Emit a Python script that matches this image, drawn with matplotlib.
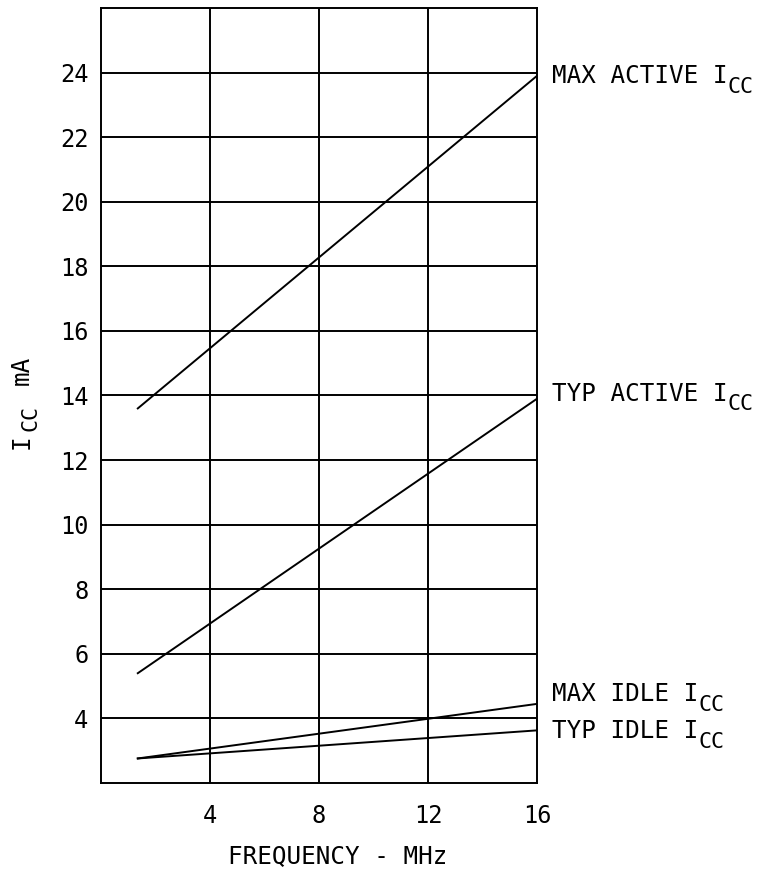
import matplotlib
matplotlib.use("Agg")
import matplotlib.pyplot as plt

plt.rcParams['font.family'] = ['DejaVu Sans Mono']

# data
freq = [1.35, 16]
max_active = [13.6, 23.9]
typ_active = [5.4, 13.9]
max_idle = [2.76, 4.45]
typ_idle = [2.76, 3.63]

curve_names = ['MAX ACTIVE I', 'TYP ACTIVE I', 'MAX IDLE I', 'TYP IDLE I']
label_y = [23.67, 13.84, 4.53, 3.38]

x_ticks = [4, 8, 12, 16]
y_ticks = list(range(4, 26, 2))

fig = plt.figure(figsize=(7.67, 8.71), dpi=100)
ax = fig.add_axes([101/767, 1 - 783/871, (537 - 101)/767, (783 - 8)/871])

lw = 1.4
for yv in y_ticks:
    ax.axhline(yv, color='black', lw=lw)
for xv in x_ticks[:-1]:
    ax.axvline(xv, color='black', lw=lw)

for series in [max_active, typ_active, max_idle, typ_idle]:
    ax.plot(freq, series, color='black', lw=lw)

fs = 17.5
for name, ly in zip(curve_names, label_y):
    t = ax.text(16.55, ly, name, fontsize=fs, ha='left', va='baseline',
                clip_on=False)
    # lowered "CC" subscript
    ax.annotate('CC', xy=(1, 0), xycoords=t, xytext=(0, -6),
                textcoords='offset points', fontsize=15.5,
                ha='left', va='bottom')

ax.set_xlim(0, 16)
ax.set_ylim(2, 26)
ax.set_xticks(x_ticks)
ax.set_yticks(y_ticks)
ax.tick_params(length=0, labelsize=17)
ax.tick_params(axis='y', pad=9)
ax.tick_params(axis='x', pad=15)
for sp in ax.spines.values():
    sp.set_linewidth(lw)

fig.text(338/767, 1 - 856/871, 'FREQUENCY - MHz', fontsize=fs,
         ha='center', va='center')

# y axis title "I_CC mA", rotated
fig.text(22/767, 1 - 442/871, 'I', fontsize=fs, ha='center', va='center',
         rotation=90)
fig.text(31/767, 1 - 418/871, 'CC', fontsize=15.5, ha='center', va='center',
         rotation=90)
fig.text(22/767, 1 - 370/871, 'mA', fontsize=fs, ha='center', va='center',
         rotation=90)

fig.savefig('out.png', dpi=100)
